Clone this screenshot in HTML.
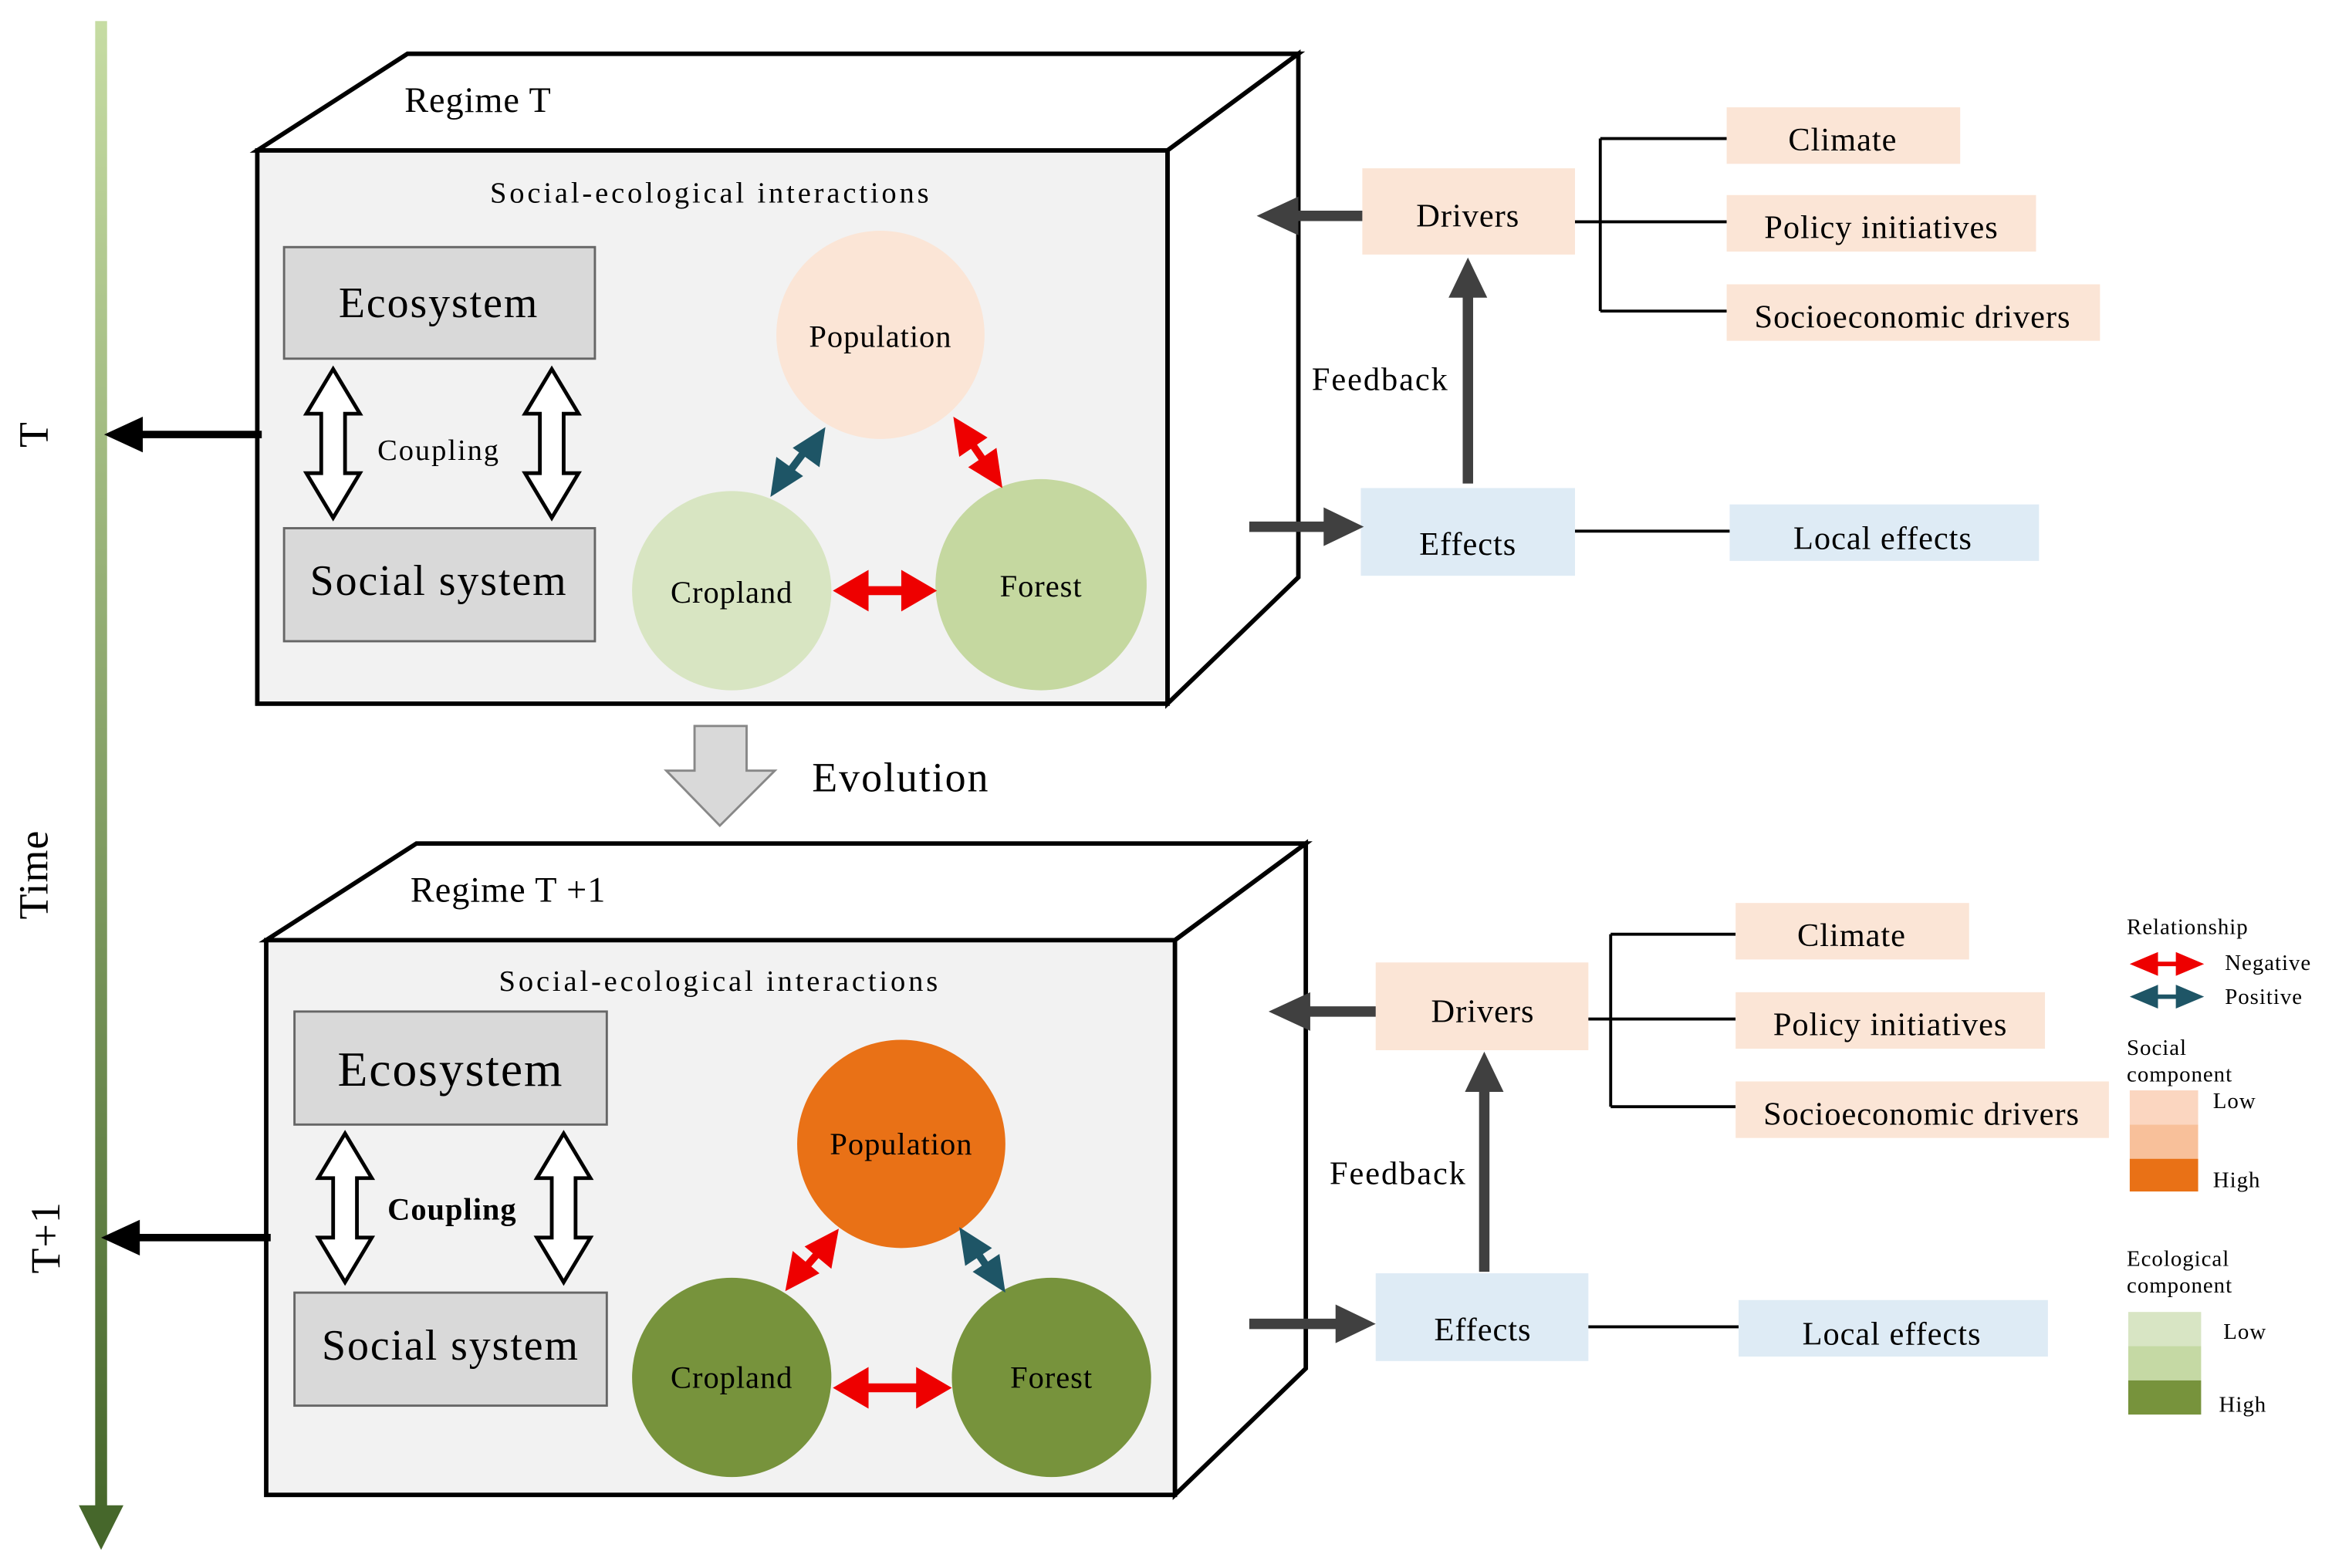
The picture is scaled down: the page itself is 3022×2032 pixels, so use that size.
<!DOCTYPE html>
<html><head><meta charset="utf-8"><style>
html,body{margin:0;padding:0;background:#fff;}
svg{display:block;}
text{font-family:"Liberation Serif",serif;fill:#000;letter-spacing:0.5px;}
</style></head><body>
<svg width="3022" height="2032" viewBox="0 0 1568 1054" xmlns="http://www.w3.org/2000/svg">
<defs>
<linearGradient id="tg" x1="0" y1="0" x2="0" y2="1">
<stop offset="0" stop-color="#c6dca3"/><stop offset="1" stop-color="#46672b"/>
</linearGradient>
</defs>
<rect width="1568" height="1054" fill="#fff"/>

<!-- time axis -->
<rect x="64" y="14" width="8" height="1005" fill="url(#tg)"/>
<polygon points="53,1012 83,1012 68,1042" fill="#46672b"/>
<text transform="translate(32,292) rotate(-90)" font-size="28" text-anchor="middle">T</text>
<text transform="translate(32,588) rotate(-90)" font-size="28" text-anchor="middle">Time</text>
<text transform="translate(40,832) rotate(-90)" font-size="28" text-anchor="middle">T+1</text>

<!-- ========== Box 1 ========== -->
<polygon points="173,101 274,36 873,36 785,101" fill="#fff" stroke="#000" stroke-width="3"/>
<polygon points="785,101 873,36 873,388 785,473" fill="#fff" stroke="#000" stroke-width="3"/>
<rect x="173" y="101" width="612" height="372" fill="#f2f2f2" stroke="#000" stroke-width="3"/>
<text x="272" y="75" font-size="24">Regime T</text>
<text x="478" y="136" font-size="20" text-anchor="middle" style="letter-spacing:2px">Social-ecological interactions</text>
<rect x="191" y="166" width="209" height="75" fill="#d9d9d9" stroke="#666" stroke-width="1.5"/>
<text x="295" y="213" font-size="29" text-anchor="middle" style="letter-spacing:1px">Ecosystem</text>
<rect x="191" y="355" width="209" height="76" fill="#d9d9d9" stroke="#666" stroke-width="1.5"/>
<text x="295" y="400" font-size="29" text-anchor="middle" style="letter-spacing:1px">Social system</text>
<g fill="#fff" stroke="#000" stroke-width="2.5">
<polygon points="224,248 242,278 232,278 232,318 242,318 224,348 206,318 216,318 216,278 206,278"/>
<polygon points="371,248 389,278 379,278 379,318 389,318 371,348 353,318 363,318 363,278 353,278"/>
</g>
<text x="295" y="309" font-size="20" text-anchor="middle" style="letter-spacing:1px">Coupling</text>
<circle cx="592" cy="225" r="70" fill="#fbe5d6"/>
<circle cx="492" cy="397" r="67" fill="#d8e5c2"/>
<circle cx="700" cy="393" r="71" fill="#c5d8a0"/>
<text x="592" y="233" font-size="21" text-anchor="middle">Population</text>
<text x="492" y="405" font-size="21" text-anchor="middle">Cropland</text>
<text x="700" y="401" font-size="21" text-anchor="middle">Forest</text>
<!-- relation arrows -->
<line x1="530" y1="318" x2="545" y2="298" stroke="#1e5566" stroke-width="5"/>
<polygon points="555,287 551,314 533,301" fill="#1e5566"/>
<polygon points="518,334 522,307 540,320" fill="#1e5566"/>
<line x1="652" y1="296" x2="663" y2="312" stroke="#e00" stroke-width="5"/>
<polygon points="641,280 664,294 645,307" fill="#e00"/>
<polygon points="674,328 651,314 670,301" fill="#e00"/>
<line x1="580" y1="397" x2="612" y2="397" stroke="#e00" stroke-width="6"/>
<polygon points="560,397 584,383 584,411" fill="#e00"/>
<polygon points="630,397 606,383 606,411" fill="#e00"/>
<!-- arrow to axis -->
<line x1="176" y1="292" x2="90" y2="292" stroke="#000" stroke-width="5"/>
<polygon points="70,292 96,280 96,304" fill="#000"/>

<!-- right side 1 -->
<rect x="916" y="113" width="143" height="58" fill="#fbe5d6"/>
<text x="987" y="152" font-size="22" text-anchor="middle">Drivers</text>
<line x1="916" y1="145" x2="868" y2="145" stroke="#404040" stroke-width="7"/>
<polygon points="845,145 873,132 873,158" fill="#404040"/>
<rect x="915" y="328" width="144" height="59" fill="#deebf5"/>
<text x="987" y="373" font-size="22" text-anchor="middle">Effects</text>
<line x1="840" y1="354" x2="895" y2="354" stroke="#404040" stroke-width="7"/>
<polygon points="917,354 890,341 890,367" fill="#404040"/>
<line x1="987" y1="325" x2="987" y2="195" stroke="#404040" stroke-width="7"/>
<polygon points="987,173 974,200 1000,200" fill="#404040"/>
<text x="882" y="262" font-size="22" style="letter-spacing:1px">Feedback</text>
<g stroke="#000" stroke-width="2" fill="none">
<line x1="1059" y1="149" x2="1076" y2="149"/>
<line x1="1076" y1="93" x2="1076" y2="209"/>
<line x1="1076" y1="93" x2="1161" y2="93"/>
<line x1="1076" y1="149" x2="1161" y2="149"/>
<line x1="1076" y1="209" x2="1161" y2="209"/>
<line x1="1059" y1="357" x2="1163" y2="357"/>
</g>
<rect x="1161" y="72" width="157" height="38" fill="#fbe5d6"/>
<text x="1239" y="101" font-size="22" text-anchor="middle">Climate</text>
<rect x="1161" y="131" width="208" height="38" fill="#fbe5d6"/>
<text x="1265" y="160" font-size="22" text-anchor="middle">Policy initiatives</text>
<rect x="1161" y="191" width="251" height="38" fill="#fbe5d6"/>
<text x="1286" y="220" font-size="22" text-anchor="middle">Socioeconomic drivers</text>
<rect x="1163" y="339" width="208" height="38" fill="#deebf5"/>
<text x="1266" y="369" font-size="22" text-anchor="middle">Local effects</text>

<!-- evolution -->
<polygon points="467,488 502,488 502,518 521,518 484,555 448,518 467,518" fill="#d9d9d9" stroke="#888" stroke-width="1.5"/>
<text x="546" y="532" font-size="28" style="letter-spacing:1px">Evolution</text>

<!-- ========== Box 2 ========== -->
<polygon points="179,632 280,567 878,567 790,632" fill="#fff" stroke="#000" stroke-width="3"/>
<polygon points="790,632 878,567 878,920 790,1005" fill="#fff" stroke="#000" stroke-width="3"/>
<rect x="179" y="632" width="611" height="373" fill="#f2f2f2" stroke="#000" stroke-width="3"/>
<text x="276" y="606" font-size="24">Regime T +1</text>
<text x="484" y="666" font-size="20" text-anchor="middle" style="letter-spacing:2px">Social-ecological interactions</text>
<rect x="198" y="680" width="210" height="76" fill="#d9d9d9" stroke="#666" stroke-width="1.5"/>
<text x="303" y="730" font-size="33" text-anchor="middle" style="letter-spacing:1px">Ecosystem</text>
<rect x="198" y="869" width="210" height="76" fill="#d9d9d9" stroke="#666" stroke-width="1.5"/>
<text x="303" y="914" font-size="29" text-anchor="middle" style="letter-spacing:1px">Social system</text>
<g fill="#fff" stroke="#000" stroke-width="2.5">
<polygon points="232,762 250,792 240,792 240,832 250,832 232,862 214,832 224,832 224,792 214,792"/>
<polygon points="379,762 397,792 387,792 387,832 397,832 379,862 361,832 371,832 371,792 361,792"/>
</g>
<text x="304" y="820" font-size="21" font-weight="bold" text-anchor="middle">Coupling</text>
<circle cx="606" cy="769" r="70" fill="#e97116"/>
<circle cx="492" cy="926" r="67" fill="#77933c"/>
<circle cx="707" cy="926" r="67" fill="#77933c"/>
<text x="606" y="776" font-size="21" text-anchor="middle">Population</text>
<text x="492" y="933" font-size="21" text-anchor="middle">Cropland</text>
<text x="707" y="933" font-size="21" text-anchor="middle">Forest</text>
<line x1="539" y1="855" x2="553" y2="839" stroke="#e00" stroke-width="5"/>
<polygon points="564,826 559,853 541,838" fill="#e00"/>
<polygon points="528,868 533,841 551,856" fill="#e00"/>
<line x1="655" y1="839" x2="666" y2="855" stroke="#1e5566" stroke-width="5"/>
<polygon points="645,825 667,839 649,851" fill="#1e5566"/>
<polygon points="676,869 654,855 672,843" fill="#1e5566"/>
<line x1="580" y1="933" x2="620" y2="933" stroke="#e00" stroke-width="6"/>
<polygon points="560,933 584,919 584,947" fill="#e00"/>
<polygon points="640,933 616,919 616,947" fill="#e00"/>
<line x1="182" y1="832" x2="88" y2="832" stroke="#000" stroke-width="5"/>
<polygon points="68,832 94,820 94,844" fill="#000"/>

<!-- right side 2 -->
<rect x="925" y="647" width="143" height="59" fill="#fbe5d6"/>
<text x="997" y="687" font-size="22" text-anchor="middle">Drivers</text>
<line x1="925" y1="680" x2="876" y2="680" stroke="#404040" stroke-width="7"/>
<polygon points="853,680 881,667 881,693" fill="#404040"/>
<rect x="925" y="856" width="143" height="59" fill="#deebf5"/>
<text x="997" y="901" font-size="22" text-anchor="middle">Effects</text>
<line x1="840" y1="890" x2="903" y2="890" stroke="#404040" stroke-width="7"/>
<polygon points="925,890 898,877 898,903" fill="#404040"/>
<line x1="998" y1="855" x2="998" y2="729" stroke="#404040" stroke-width="7"/>
<polygon points="998,707 985,734 1011,734" fill="#404040"/>
<text x="894" y="796" font-size="22" style="letter-spacing:1px">Feedback</text>
<g stroke="#000" stroke-width="2" fill="none">
<line x1="1068" y1="685" x2="1083" y2="685"/>
<line x1="1083" y1="628" x2="1083" y2="744"/>
<line x1="1083" y1="628" x2="1167" y2="628"/>
<line x1="1083" y1="685" x2="1167" y2="685"/>
<line x1="1083" y1="744" x2="1167" y2="744"/>
<line x1="1068" y1="892" x2="1169" y2="892"/>
</g>
<rect x="1167" y="607" width="157" height="38" fill="#fbe5d6"/>
<text x="1245" y="636" font-size="22" text-anchor="middle">Climate</text>
<rect x="1167" y="667" width="208" height="38" fill="#fbe5d6"/>
<text x="1271" y="696" font-size="22" text-anchor="middle">Policy initiatives</text>
<rect x="1167" y="727" width="251" height="38" fill="#fbe5d6"/>
<text x="1292" y="756" font-size="22" text-anchor="middle">Socioeconomic drivers</text>
<rect x="1169" y="874" width="208" height="38" fill="#deebf5"/>
<text x="1272" y="904" font-size="22" text-anchor="middle">Local effects</text>

<!-- legend -->
<g style="letter-spacing:1px">
<text x="1430" y="628" font-size="15">Relationship</text>
<text x="1496" y="652" font-size="15">Negative</text>
<text x="1496" y="675" font-size="15">Positive</text>
<text x="1430" y="709" font-size="15">Social</text>
<text x="1430" y="727" font-size="15">component</text>
<text x="1488" y="745" font-size="15">Low</text>
<text x="1488" y="798" font-size="15">High</text>
<text x="1430" y="851" font-size="15">Ecological</text>
<text x="1430" y="869" font-size="15">component</text>
<text x="1495" y="900" font-size="15">Low</text>
<text x="1492" y="949" font-size="15">High</text>
</g>
<line x1="1445" y1="648" x2="1470" y2="648" stroke="#e00" stroke-width="3"/>
<polygon points="1432,648 1451,640 1451,656" fill="#e00"/>
<polygon points="1482,648 1463,640 1463,656" fill="#e00"/>
<line x1="1445" y1="670" x2="1470" y2="670" stroke="#1e5566" stroke-width="3"/>
<polygon points="1432,670 1451,662 1451,678" fill="#1e5566"/>
<polygon points="1482,670 1463,662 1463,678" fill="#1e5566"/>
<rect x="1432" y="733" width="46" height="23" fill="#fbd6c0"/>
<rect x="1432" y="756" width="46" height="23" fill="#f8c09a"/>
<rect x="1432" y="779" width="46" height="22" fill="#e97116"/>
<rect x="1431" y="882" width="49" height="23" fill="#d8e5c4"/>
<rect x="1431" y="905" width="49" height="23" fill="#c5d9a4"/>
<rect x="1431" y="928" width="49" height="23" fill="#77933c"/>
</svg>
</body></html>
